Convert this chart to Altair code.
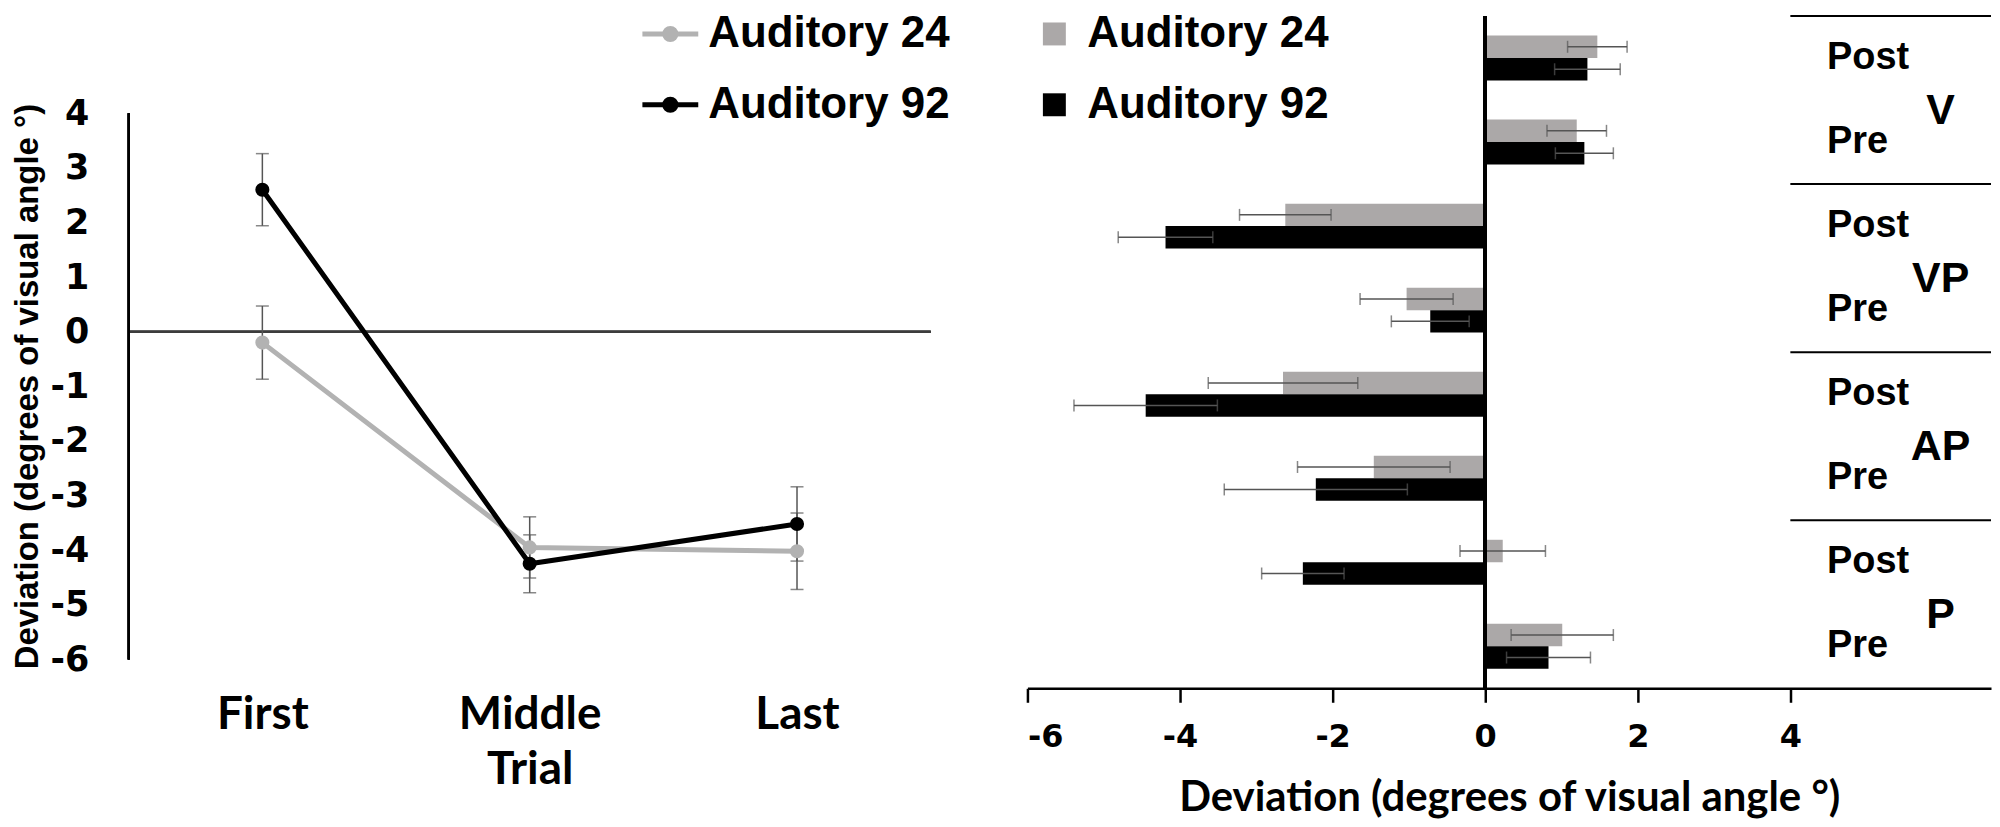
import altair as alt
import pandas as pd

# ---------------- left panel (line chart) ----------------
trials = ["First", "Middle", "Last"]
trial_pos = [1, 2, 3]
series = ["Auditory 24", "Auditory 92"]
line_colors = ["#b2b2b2", "#000000"]
bar_colors = ["#aba8a8", "#000000"]
line_a24 = [-0.20, -3.95, -4.02]
line_a24_err = [0.67, 0.56, 0.70]
line_a92 = [2.60, -4.25, -3.52]
line_a92_err = [0.66, 0.53, 0.68]
left_y_ticks = [-6, -5, -4, -3, -2, -1, 0, 1, 2, 3, 4]

# ---------------- right panel (bar chart) ----------------
conditions = ["V", "VP", "AP", "P"]
phases = ["Post", "Pre"]
bar_a24 = [1.47, 1.20, -2.62, -1.03, -2.65, -1.46, 0.23, 1.01]
bar_a24_err = [0.39, 0.39, 0.60, 0.61, 0.98, 1.00, 0.56, 0.67]
bar_a92 = [1.34, 1.30, -4.19, -0.72, -4.45, -2.22, -2.39, 0.83]
bar_a92_err = [0.43, 0.38, 0.62, 0.51, 0.94, 1.20, 0.54, 0.55]
right_x_ticks = [-6, -4, -2, 0, 2, 4]

TITLE = "Deviation (degrees of visual angle °)"
ERR_COLOR = "#555555"

# ---- build tables ----
line_rows = []
for s, means, errs in [(series[0], line_a24, line_a24_err), (series[1], line_a92, line_a92_err)]:
    for t, p, v, e in zip(trials, trial_pos, means, errs):
        line_rows.append(dict(series=s, trial=t, pos=p, mean=v, lo=v - e, hi=v + e))
ldf = pd.DataFrame(line_rows)

bands = [f"{c} {p}" for c in conditions for p in phases]
bar_rows = []
for s, means, errs in [(series[0], bar_a24, bar_a24_err), (series[1], bar_a92, bar_a92_err)]:
    for b, v, e in zip(bands, means, errs):
        bar_rows.append(dict(series=s, band=b, mean=v, lo=v - e, hi=v + e))
bdf = pd.DataFrame(bar_rows)

phase_df = pd.DataFrame({"band": bands, "phase": [b.split(" ")[1] for b in bands]})
cond_df = pd.DataFrame({"band": [f"{c} Pre" for c in conditions], "cond": conditions})
sep_df = pd.DataFrame({"band": [f"{c} Post" for c in conditions]})

# ---------------- left chart ----------------
LX = alt.Scale(domain=[0.5, 3.5], nice=False, zero=False)
LY = alt.Scale(domain=[-6, 5.78], nice=False, zero=False)
label_expr = "[" + ",".join(["''"] + [f"'{t}'" for t in trials]) + "][datum.value]"

x_axis_left = alt.Axis(
    values=trial_pos, labelExpr=label_expr, domain=False, ticks=False, tickSize=0,
    grid=False, labelFont="Lato", labelFontSize=46, labelFontWeight="bold",
    labelColor="black", labelPadding=33, labelAngle=0,
    title="Trial", titleFont="Lato", titleFontSize=46, titleFontWeight="bold",
    titleColor="black", titleY=124, titleBaseline="alphabetic",
)
y_axis_left = alt.Axis(
    values=left_y_ticks, labelExpr="'' + datum.value", domain=False, ticks=False,
    tickSize=0, grid=False, labelFont="DejaVu Sans", labelFontSize=35,
    labelFontWeight="bold", labelColor="black", labelPadding=40,
    title=TITLE, titleFont="Liberation Sans", titleFontSize=33, titleFontWeight="bold",
    titleColor="black", titleX=-101, titleY=371, titleBaseline="middle",
    titleAngle=270, titleLimit=1000,
)

LEG_PATH = ("M-1.75,0L1.75,0"
            "M-0.35,0A0.35,0.35,0,1,0,0.35,0A0.35,0.35,0,1,0,-0.35,0"
            "M-0.17,0A0.17,0.17,0,1,0,0.17,0A0.17,0.17,0,1,0,-0.17,0")
leg_left = alt.Legend(
    orient="none", legendX=521, legendY=-4, title=None, symbolType=LEG_PATH,
    symbolSize=1024, symbolStrokeWidth=5, labelFont="Liberation Sans",
    labelFontSize=44, labelFontWeight="bold", labelColor="black", labelOffset=16,
    labelLimit=600, rowPadding=27, direction="vertical",
)

XL = alt.X("pos:Q", scale=LX, axis=x_axis_left)
color_left = alt.Color("series:N", scale=alt.Scale(domain=series, range=line_colors),
                       legend=leg_left)

base_l = alt.Chart(ldf)
zero_l = base_l.mark_rule(color="#3c3c3c", strokeWidth=2).encode(
    y=alt.datum(0, scale=LY, axis=y_axis_left))
yline_l = base_l.mark_rule(color="black", strokeWidth=2).encode(
    x=alt.value(0), y=alt.datum(left_y_ticks[0]), y2=alt.datum(left_y_ticks[-1]))
err_l = base_l.mark_rule(color=ERR_COLOR, strokeWidth=1.5).encode(
    x=XL, y=alt.Y("lo:Q", scale=LY, axis=y_axis_left), y2="hi:Q")
caplo_l = base_l.mark_tick(color=ERR_COLOR, orient="horizontal", size=13, thickness=1.5).encode(
    x=XL, y=alt.Y("lo:Q", scale=LY, axis=y_axis_left))
caphi_l = base_l.mark_tick(color=ERR_COLOR, orient="horizontal", size=13, thickness=1.5).encode(
    x=XL, y=alt.Y("hi:Q", scale=LY, axis=y_axis_left))
line_l = base_l.mark_line(strokeWidth=5).encode(
    x=XL, y=alt.Y("mean:Q", scale=LY, axis=y_axis_left), color=color_left)
pts_l = base_l.mark_point(filled=True, size=200, opacity=1).encode(
    x=XL, y=alt.Y("mean:Q", scale=LY, axis=y_axis_left),
    color=alt.Color("series:N", scale=alt.Scale(domain=series, range=line_colors), legend=None))

left = alt.layer(zero_l, yline_l, err_l, caplo_l, caphi_l, line_l, pts_l).properties(
    width=804, height=645)

# ---------------- right chart ----------------
RX = alt.Scale(domain=[-6, 6.63], nice=False, zero=False)
RY = alt.Scale(domain=bands, paddingInner=0, paddingOuter=0)
ROFF = alt.Scale(domain=series, paddingInner=0, paddingOuter=0.87)

x_axis_right = alt.Axis(
    values=right_x_ticks, labelExpr="'' + datum.value", domain=True, domainColor="black",
    domainWidth=2.5, ticks=True, tickColor="black", tickWidth=2.5, tickSize=14, grid=False,
    labelFont="DejaVu Sans", labelFontSize=32, labelFontWeight="bold",
    labelColor="black", labelPadding=19,
    title=TITLE, titleFont="Lato", titleFontSize=42, titleFontWeight="bold",
    titleColor="black", titleY=123, titleBaseline="alphabetic", titleLimit=1000,
)
leg_right = alt.Legend(
    orient="none", legendX=5, legendY=-4, title=None, symbolType="square",
    symbolSize=529, symbolStrokeWidth=0, labelFont="Liberation Sans",
    labelFontSize=44, labelFontWeight="bold", labelColor="black", labelOffset=11,
    labelLimit=600, rowPadding=27, direction="vertical",
)

YR = alt.Y("band:N", scale=RY, axis=None, sort=bands)
YOFF = alt.YOffset("series:N", scale=ROFF, sort=series)

base_r = alt.Chart(bdf)
bars_r = base_r.mark_bar().encode(
    x=alt.X("mean:Q", scale=RX, axis=x_axis_right), y=YR, yOffset=YOFF,
    color=alt.Color("series:N", scale=alt.Scale(domain=series, range=bar_colors),
                    legend=leg_right))
err_r = base_r.mark_rule(color=ERR_COLOR, strokeWidth=1.5).encode(
    x=alt.X("lo:Q", scale=RX, axis=x_axis_right), x2="hi:Q", y=YR, yOffset=YOFF)
caplo_r = base_r.mark_tick(color=ERR_COLOR, size=12, thickness=1.5).encode(
    x=alt.X("lo:Q", scale=RX, axis=x_axis_right), y=YR, yOffset=YOFF)
caphi_r = base_r.mark_tick(color=ERR_COLOR, size=12, thickness=1.5).encode(
    x=alt.X("hi:Q", scale=RX, axis=x_axis_right), y=YR, yOffset=YOFF)
zero_r = base_r.mark_rule(color="black", strokeWidth=3).encode(x=alt.datum(0))
sep_r = alt.Chart(sep_df).mark_rule(color="black", strokeWidth=2).encode(
    x=alt.datum(4), x2=alt.datum(RX.domain[1]),
    y=alt.Y("band:N", scale=RY, axis=None, sort=bands, bandPosition=0))
phase_r = alt.Chart(phase_df).mark_text(
    align="left", baseline="middle", font="Liberation Sans", fontSize=38,
    fontWeight="bold", color="black").encode(
    x=alt.datum(4.48), y=YR, text="phase:N")
cond_r = alt.Chart(cond_df).mark_text(
    align="center", baseline="middle", font="Liberation Sans", fontSize=43,
    fontWeight="bold", color="black", dy=-31).encode(
    x=alt.datum(5.97), y=YR, text="cond:N")

right = alt.layer(bars_r, err_r, caplo_r, caphi_r, zero_r, sep_r, phase_r, cond_r).properties(
    width=966, height=674)

chart = (
    alt.hconcat(left, right, spacing=97, bounds="flush")
    .resolve_scale(color="independent")
    .resolve_legend(color="independent")
    .properties(padding={"left": 3, "top": 3, "right": 0, "bottom": 0}, background="white")
    .configure_view(strokeWidth=0)
)

chart.save("out.html", embed_options={"renderer": "svg", "actions": False})
